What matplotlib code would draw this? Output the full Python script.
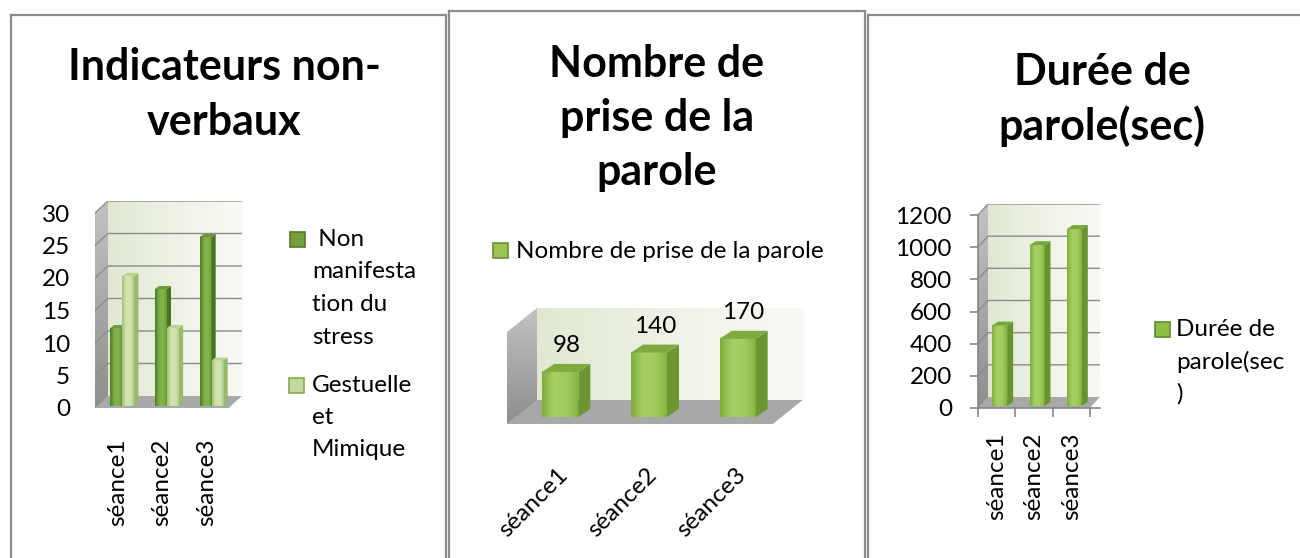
import numpy as np
import matplotlib
matplotlib.use("Agg")
import matplotlib.pyplot as plt
from matplotlib.patches import Polygon, Rectangle
from matplotlib.colors import LinearSegmentedColormap
from matplotlib.lines import Line2D

plt.rcParams['font.family'] = ['Lato', 'DejaVu Sans']

# data
seances = ["séance1", "séance2", "séance3"]
non_stress = [12, 18, 26]
gestuelle = [20, 12, 7]
prises = [98, 140, 170]
duree = [500, 1000, 1100]

titles = [["Indicateurs non-", "verbaux"],
          ["Nombre de", "prise de la", "parole"],
          ["Durée de", "parole(sec)"]]
leg1 = [" Non\nmanifesta\ntion du\nstress", "Gestuelle\net\nMimique"]
leg2 = "Nombre de prise de la parole"
leg3 = "Durée de\nparole(sec\n)"
ticks1 = [0, 5, 10, 15, 20, 25, 30]
ticks3 = [0, 200, 400, 600, 800, 1000, 1200]

W, H = 1300, 558
FS = 17.5
fig = plt.figure(figsize=(13, 5.58), dpi=100)
fig.patch.set_facecolor("white")


def fx(x):
    return x / W


def fy(y):
    return 1 - y / H


def pt(p):
    # pixels -> points
    return p * 0.72


def cmap(cols):
    return LinearSegmentedColormap.from_list("c", cols)


grad = np.linspace(0, 1, 64).reshape(1, -1)
vgrad = np.linspace(0, 1, 64).reshape(-1, 1)

dark_c = cmap(["#4e7a22", "#7fb048", "#83b34b", "#5f8f2e"])
light_c = cmap(["#a3c273", "#d3e4b3", "#d0e2ae", "#a8c67c"])
mid_c = cmap(["#7eae3a", "#a6cf66", "#a2cc60", "#86b641"])
wall_c = cmap(["#e1e8d2", "#eef2e6", "#f8faf4"])
lwall_c = cmap(["#8e8e8e", "#c2c2c2"])


class Box:
    # front plane in pixels + depth in pixels
    def __init__(self, left, right, zero, top, ymax, dxp, dyp):
        self.ux = (right - left) / 3.0
        self.uy = (zero - top) / ymax
        self.dX = dxp / self.ux
        self.dY = dyp / self.uy
        self.ymax = ymax
        self.ax = fig.add_axes([fx(left), fy(zero), (right + dxp - left) / W,
                                (zero - top + dyp) / H])

    def px(self, dx, dy):
        return dx / self.ux, dy / self.uy

    def walls(self, grid=(), gcol="#8c8c8c", floor="#a9a9a9"):
        ax, dX, dY, ym = self.ax, self.dX, self.dY, self.ymax
        x0, x1 = -0.5, 2.5
        ax.imshow(grad, extent=[x0 + dX, x1 + dX, dY, ym + dY], cmap=wall_c,
                  aspect="auto", zorder=0)
        ax.imshow(vgrad, extent=[x0, x0 + dX, 0, ym + dY], cmap=lwall_c,
                  aspect="auto", zorder=0.5, origin="lower")
        # mask the corners of the left wall image
        ax.add_patch(Polygon([(x0, ym), (x0 + dX, ym + dY), (x0, ym + dY)],
                             fc="white", ec="none", zorder=0.6))
        ax.add_patch(Polygon([(x0, 0), (x0 + dX, dY), (x0 + dX, 0)],
                             fc=floor, ec="none", zorder=0.6))
        ax.add_patch(Polygon([(x0, 0), (x1, 0), (x1 + dX, dY), (x0 + dX, dY)],
                             fc=floor, ec="none", zorder=0.7))
        ax.add_patch(Polygon([(x1, 0), (x1 + dX, 0), (x1 + dX, dY)],
                             fc="white", ec="none", zorder=0.7))
        for v in grid:
            ax.plot([x0, x0 + dX, x1 + dX], [v, v + dY, v + dY], color=gcol,
                    lw=1.0, zorder=0.8)
        ax.set_xlim(x0, x1 + dX)
        ax.set_ylim(0, ym + dY)
        for s in ax.spines.values():
            s.set_visible(False)

    def bar(self, xc, w, v, off, depth, cm, side, top, z):
        ax = self.ax
        ox, oy = self.px(*off)
        bx, by = self.px(*depth)
        x0 = xc - w / 2 + ox
        ax.imshow(grad, extent=[x0, x0 + w, oy, oy + v], cmap=cm,
                  aspect="auto", zorder=z)
        ax.add_patch(Polygon([(x0 + w, oy), (x0 + w + bx, oy + by),
                              (x0 + w + bx, oy + v + by), (x0 + w, oy + v)],
                             fc=side, ec="none", zorder=z))
        ax.add_patch(Polygon([(x0, oy + v), (x0 + w, oy + v),
                              (x0 + w + bx, oy + v + by), (x0 + bx, oy + v + by)],
                             fc=top, ec="none", zorder=z))
        return x0 + w / 2 + bx / 2, oy + v + by


def title(lines, xc, y0, step):
    for k, t in enumerate(lines):
        fig.text(fx(xc), fy(y0 + k * step), t, ha="center", va="baseline",
                 fontsize=31, fontweight="bold")


def legend_item(xs, ys, fc, ec, xt, text, y0, step):
    fig.patches.append(Rectangle((fx(xs), fy(ys + 15)), 15 / W, 15 / H,
                                 transform=fig.transFigure, fc=fc, ec=ec, lw=1.2))
    for k, t in enumerate(text.split("\n")):
        fig.text(fx(xt), fy(y0 + k * step), t, ha="left", va="center",
                 fontsize=FS)


# panel frames
fc = "#8c8c8c"
for seg in [((11, 11), (15, H)), ((11, 446), (15, 15)), ((446, 446), (15, H)),
            ((449, 449), (11, H)), ((449, 865), (11, 11)), ((865, 865), (11, H)),
            ((868, 868), (15, H)), ((868, W), (15, 15))]:
    fig.add_artist(Line2D([fx(seg[0][0]), fx(seg[0][1])],
                          [fy(seg[1][0]), fy(seg[1][1])], color=fc, lw=1.6))

# ---- chart 1
title(titles[0], 224, 80, 55)
b1 = Box(95, 229, 408, 213, 30, 13, 12)
b1.walls(grid=ticks1[1:])
bw = 0.27
for i in range(3):
    b1.bar(i - bw / 2, bw, non_stress[i], (5, 2), (4, 3), dark_c, "#4b7221", "#6b9a37", 2)
    b1.bar(i + bw / 2, bw, gestuelle[i], (5, 2), (4, 3), light_c, "#98b86a", "#bcd394", 3)
ax = b1.ax
ax.set_yticks(ticks1)
ax.set_yticklabels([str(t) for t in ticks1], fontsize=FS)
ax.set_xticks(range(3))
ax.set_xticklabels(seances, rotation=90, fontsize=FS)
ax.tick_params(axis="y", length=0, pad=pt(25))
ax.tick_params(axis="x", length=0, pad=pt(30))
legend_item(290, 232, "#77a03c", "#557a27", 312, leg1[0], 239, 32.7)
legend_item(289, 378, "#c3d89c", "#86a94e", 312, leg1[1], 385, 32.5)

# ---- chart 2
title(titles[1], 657, 77, 54)
b2 = Box(507, 773, 424, 332, 200, 30, 24)
b2.walls(grid=(), floor="#a8a8a8")
ax = b2.ax
for i in range(3):
    xl, yl = b2.bar(i, 0.406, prises[i], (9, 7), (12, 8), mid_c, "#6b9631", "#7faa3e", 2)
    ax.annotate(str(prises[i]), xy=(xl, yl), xytext=(0, pt(8)), textcoords="offset points",
                ha="center", va="bottom", fontsize=FS)
    ax.annotate(seances[i], xy=(i, 0), xytext=(pt(6), pt(-40)), textcoords="offset points",
                rotation=45, ha="right", va="top", rotation_mode="anchor",
                fontsize=FS, annotation_clip=False)
ax.set_xticks([])
ax.set_yticks([])
legend_item(493, 243, "#9bc255", "#6e8f35", 516, leg2, 251, 30)

# ---- chart 3
title(titles[2], 1102, 85, 55)
b3 = Box(978, 1090, 408, 215, 1200, 10, 11)
b3.walls(grid=ticks3[1:])
ax = b3.ax
for i in range(3):
    b3.bar(i, 0.4, duree[i], (3, 2), (6, 4), mid_c, "#66942e", "#78a83a", 2)
ax.set_yticks(ticks3)
ax.set_yticklabels([str(t) for t in ticks3], fontsize=FS)
ax.set_xticks(range(3))
ax.set_xticklabels(seances, rotation=90, fontsize=FS)
ax.set_xticks([-0.5, 0.5, 1.5, 2.5], minor=True)
ax.tick_params(axis="x", which="major", length=0, pad=pt(25))
ax.tick_params(axis="x", which="minor", length=pt(9), color="#868686", width=1.2)
ax.tick_params(axis="y", length=pt(8), color="#868686", width=1.2, pad=pt(18))
ax.spines["left"].set_visible(True)
ax.spines["left"].set_bounds(0, 1200)
ax.spines["bottom"].set_visible(True)
for s in ("left", "bottom"):
    ax.spines[s].set_color("#868686")
    ax.spines[s].set_linewidth(1.2)
legend_item(1155, 322, "#8cbf46", "#5f8a2c", 1176, leg3, 330, 32)

fig.savefig("out.png", dpi=100, facecolor="white")
